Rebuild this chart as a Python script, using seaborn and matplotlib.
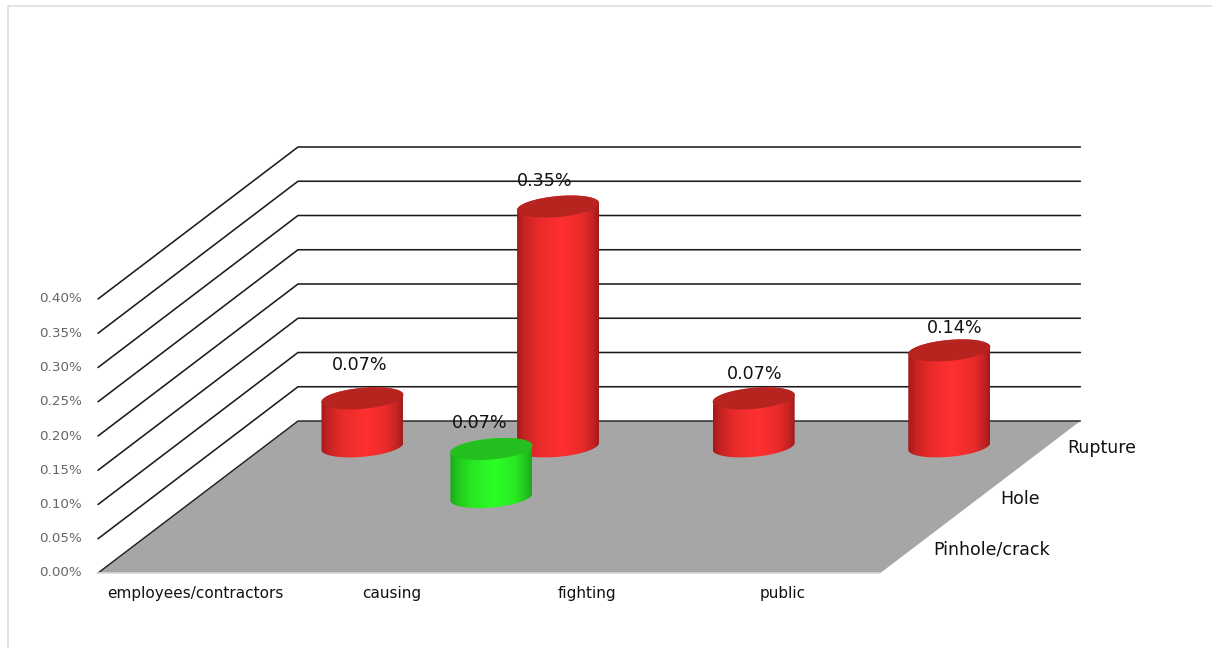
import numpy as np
import pandas as pd
import matplotlib
matplotlib.use("Agg")
import matplotlib.pyplot as plt
from matplotlib.colors import LinearSegmentedColormap
from matplotlib.patches import PathPatch, Polygon
from matplotlib.path import Path
import seaborn as sns

# ---- data ----
categories = ["employees/contractors", "causing", "fighting", "public"]
depth_rows = ["Pinhole/crack", "Hole", "Rupture"]
rupture_values = [0.07, 0.35, 0.07, 0.14]
hole_values = [0, 0.07, 0, 0]
pinhole_values = [0, 0, 0, 0]
value_ticks = [0.00, 0.05, 0.10, 0.15, 0.20, 0.25, 0.30, 0.35, 0.40]

# ---- layout of the oblique projection (pixels) ----
X0, Y0 = 98, 573
CAT_W = 195.6
DEPTH_DX, DEPTH_DY = 200, 152
PX_PER_UNIT = 274 / 0.40
R_X, R_Y, SHEAR = 41, 10.5, 3.5
# label nudges, (row, category) -> dx, dy from bar top centre
label_offsets = {(2, 0): (-3, -33.5), (2, 1): (-13, -25.5), (2, 2): (1, -24.5),
                 (2, 3): (5, -22.5), (1, 1): (-12, -26.5)}
row_colors = {
    2: dict(top="#B72420", mid="#FF3030", side="#EA2B2B", dark="#C42222", edge="#A01B1B"),
    1: dict(top="#25C01F", mid="#2BFF25", side="#29E822", dark="#22C41D", edge="#1CA81A"),
    0: dict(top="#C8C020", mid="#FFFF30", side="#E0E028", dark="#B8B01C", edge="#A0A018"),
}


def project(cat, depth, value):
    """cat in category units, depth in 0..1, value in data units -> pixels."""
    return (X0 + cat * CAT_W + depth * DEPTH_DX,
            Y0 - depth * DEPTH_DY - value * PX_PER_UNIT)


sns.set_theme(style="white")
plt.rcParams["font.family"] = ["DejaVu Sans"]
fig = plt.figure(figsize=(12.12, 6.48), dpi=100, facecolor="white")
ax = fig.add_axes([0, 0, 1, 1])

# floor
n_cat = len(categories)
floor = [project(0, 0, 0), project(n_cat, 0, 0), project(n_cat, 1, 0), project(0, 1, 0)]
ax.add_patch(Polygon(floor, closed=True, fc="#A6A6A6", ec="none", zorder=1))

# gridlines on the two walls
rows = []
for tick in value_ticks:
    for order, (c, d) in enumerate([(0, 0), (0, 1), (n_cat, 1)]):
        x, y = project(c, d, tick)
        rows.append(dict(tick=tick, order=order, x=x, y=y))
grid = pd.DataFrame(rows)
sns.lineplot(data=grid[grid.tick > 0], x="x", y="y", units="tick", estimator=None, sort=False,
             color="#1C1C1C", linewidth=1.15, legend=False, ax=ax, zorder=2)
zero = grid[grid.tick == 0]
ax.plot(zero.x, zero.y, color="#1C1C1C", lw=1.0, zorder=2)
(xa, ya), (xb, yb) = project(0, 0, 0), project(n_cat, 0, 0)
ax.plot([xa, xb], [ya, yb], color="#D9D9D9", lw=1.2, zorder=2)

# cylinders
t = np.linspace(0, 2 * np.pi, 121)


def ellipse_pts(cx, cy, tt):
    return cx + R_X * np.cos(tt), cy - SHEAR * np.cos(tt) + R_Y * np.sin(tt)


def draw_cylinder(cat, row, value, z):
    depth = (row + 0.5) / len(depth_rows)
    cx, cy = project(cat + 0.5, depth, 0)
    top_y = cy - value * PX_PER_UNIT
    col = row_colors[row]
    bx, by = ellipse_pts(cx, cy, np.linspace(0, np.pi, 60))            # lower half
    ux, uy = ellipse_pts(cx, top_y, np.linspace(np.pi, 2 * np.pi, 60))  # upper half
    verts = np.r_[np.c_[bx, by], np.c_[ux, uy], [[bx[0], by[0]]]]
    codes = [Path.MOVETO] + [Path.LINETO] * (len(verts) - 2) + [Path.CLOSEPOLY]
    body = PathPatch(Path(verts, codes), fc="none", ec="none", zorder=z)
    ax.add_patch(body)
    cmap = LinearSegmentedColormap.from_list(
        "c", [(0, col["edge"]), (0.08, col["dark"]), (0.27, col["side"]), (0.55, col["mid"]),
              (0.80, col["side"]), (0.93, col["dark"]), (1, col["edge"])])
    im = ax.imshow(np.linspace(0, 1, 256)[None, :], cmap=cmap, aspect="auto", zorder=z,
                   interpolation="bilinear",
                   extent=(cx - R_X, cx + R_X, cy + R_Y + 6, top_y - R_Y - 6))
    im.set_clip_path(body)
    ex, ey = ellipse_pts(cx, top_y, t)
    ax.fill(ex, ey, fc=col["top"], ec="none", zorder=z + 0.1)
    return cx, top_y


series = {2: rupture_values, 1: hole_values, 0: pinhole_values}
z = 3
for row in (2, 1, 0):
    for i, v in enumerate(series[row]):
        if v <= 0:
            continue
        cx, top_y = draw_cylinder(i, row, v, z)
        dx, dy = label_offsets[(row, i)]
        ax.text(cx + dx, top_y + dy, f"{v:.2f}%", ha="center", va="center",
                fontsize=12.6, color="#111111", zorder=10)
        z += 1

# value axis labels
for tick in value_ticks:
    x, y = project(0, 0, tick)
    ax.text(x - 16, y, f"{tick:.2f}%", ha="right", va="center", fontsize=9.7,
            color="#666666", zorder=10)

# category labels
for i, c in enumerate(categories):
    x, _ = project(i + 0.5, 0, 0)
    ax.text(x, Y0 + 20.5, c, ha="center", va="center", fontsize=11,
            color="#111111", zorder=10)

# depth labels
for j, name in enumerate(depth_rows):
    x, y = project(n_cat, (j + 0.5) / len(depth_rows), 0)
    ax.text(x + 20, y + 1.5, name, ha="left", va="center", fontsize=12.5,
            color="#111111", zorder=10)

# outer frame of the page
ax.plot([8, 8, 1212], [648, 5.5, 5.5], color="#DDDDDD", lw=1.2, zorder=0)

ax.set_xlim(0, 1212)
ax.set_ylim(648, 0)
ax.set_xlabel("")
ax.set_ylabel("")
ax.axis("off")
fig.savefig("out.png", dpi=100, facecolor="white")
